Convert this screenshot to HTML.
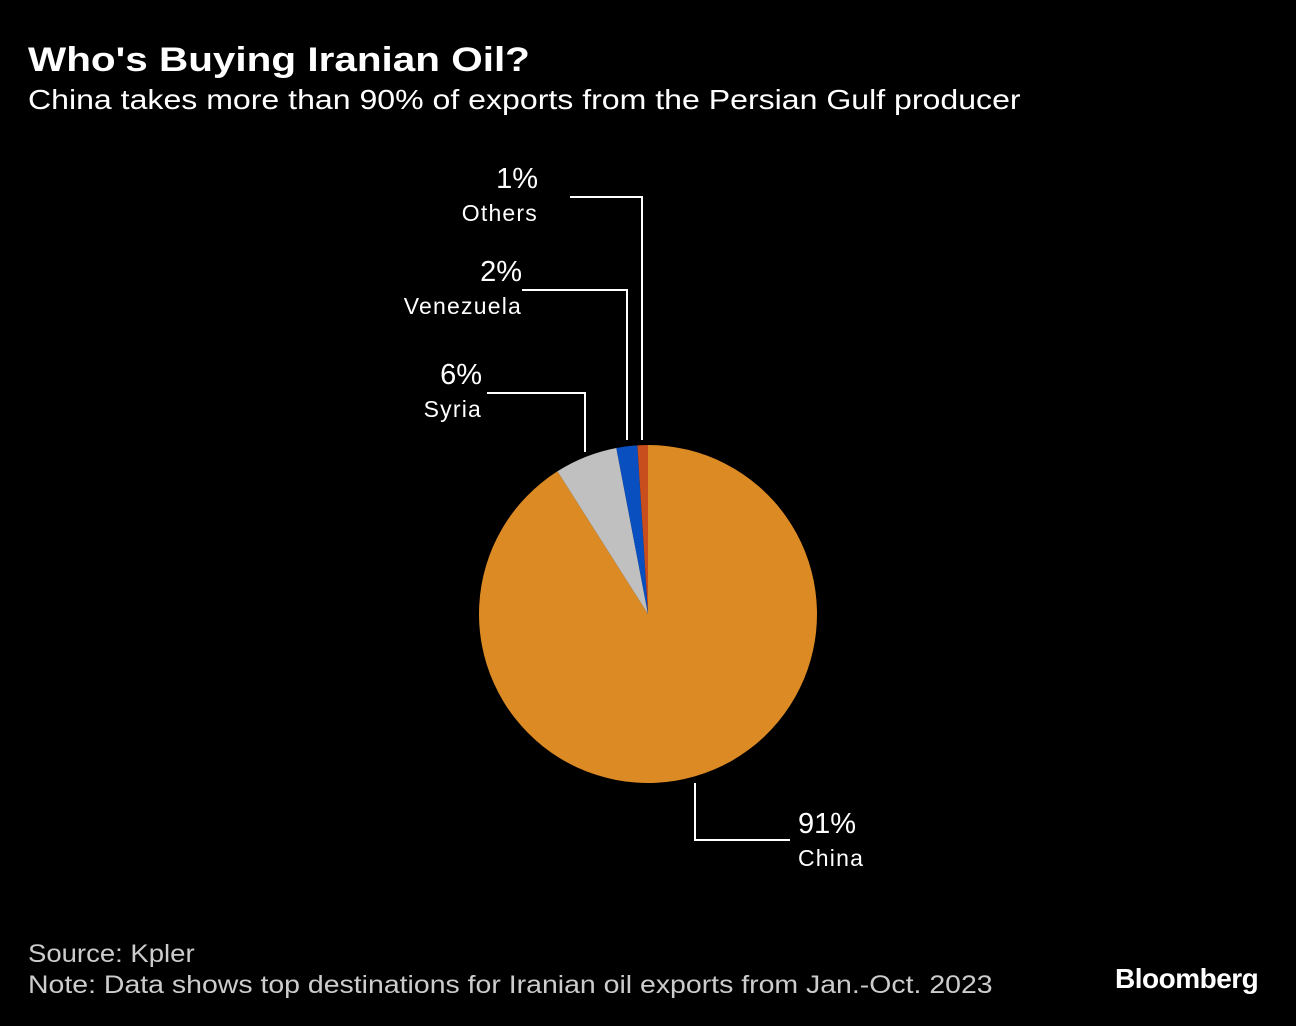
<!DOCTYPE html>
<html><head><meta charset="utf-8"><style>
html,body{margin:0;padding:0;background:#000;}
body{width:1296px;height:1026px;position:relative;overflow:hidden;font-family:"Liberation Sans",sans-serif;color:#fff;}
.t{position:absolute;white-space:nowrap;transform-origin:left;}
</style></head><body>
<div class="t" style="left:28px;top:41px;font-size:34px;font-weight:bold;transform:scaleX(1.19);">Who's Buying Iranian Oil?</div>
<div class="t" style="left:28px;top:84px;font-size:28px;transform:scaleX(1.145);">China takes more than 90% of exports from the Persian Gulf producer</div>
<svg id="chart" width="1296" height="1026" style="position:absolute;left:0;top:0;"></svg>
<div class="t" style="left:28px;top:940px;font-size:25px;color:#ccc;transform:scaleX(1.1);">Source: Kpler</div>
<div class="t" style="left:28px;top:971px;font-size:25px;color:#ccc;transform:scaleX(1.138);">Note: Data shows top destinations for Iranian oil exports from Jan.-Oct. 2023</div>
<div class="t" style="left:1115px;top:963px;font-size:28px;font-weight:bold;letter-spacing:-0.5px;">Bloomberg</div>
<script>
const categories=["China","Syria","Venezuela","Others"];
const values=[91,6,2,1];
const colors=["#db8a24","#c0c0c0","#0a4fc0","#c94e1e"];
const labels=["91%","6%","2%","1%"];
const svg=document.getElementById('chart');
const NS="http://www.w3.org/2000/svg";
const cx=648,cy=614,r=169;
const total=values.reduce((a,b)=>a+b,0);
function pt(a,rr){return [cx+rr*Math.sin(a),cy-rr*Math.cos(a)];}
let acc=0;
values.forEach((v,i)=>{
  const a0=acc/total*2*Math.PI;acc+=v;const a1=acc/total*2*Math.PI;
  const p0=pt(a0,r),p1=pt(a1,r);
  const large=(a1-a0)>Math.PI?1:0;
  const path=document.createElementNS(NS,'path');
  path.setAttribute('d',`M${cx},${cy}L${p0[0]},${p0[1]}A${r},${r} 0 ${large} 1 ${p1[0]},${p1[1]}Z`);
  path.setAttribute('fill',colors[i]);
  
  
  svg.appendChild(path);
});
const layout=[
 {x:695,y1:783,y2:840,hx:790,tx:798,ty:822,anchor:'start'},
 {x:585,y1:452,y2:393,hx:487,tx:482,ty:373,anchor:'end'},
 {x:627,y1:440,y2:290,hx:522,tx:522,ty:270,anchor:'end'},
 {x:642,y1:440,y2:197,hx:570,tx:538,ty:177,anchor:'end'}
];
layout.forEach((L,i)=>{
  const pl=document.createElementNS(NS,'polyline');
  pl.setAttribute('points',`${L.x},${L.y1} ${L.x},${L.y2} ${L.hx},${L.y2}`);
  pl.setAttribute('fill','none');pl.setAttribute('stroke','#fff');pl.setAttribute('stroke-width','2');
  
  
  svg.appendChild(pl);
  const t1=document.createElementNS(NS,'text');
  t1.setAttribute('x',L.tx);t1.setAttribute('y',L.ty+11);t1.setAttribute('text-anchor',L.anchor);
  t1.setAttribute('fill','#fff');t1.setAttribute('font-size','29');t1.setAttribute('font-family','Liberation Sans, sans-serif');
  t1.textContent=labels[i];
  
  
  svg.appendChild(t1);
  const t2=document.createElementNS(NS,'text');
  t2.setAttribute('x',L.tx);t2.setAttribute('y',L.ty+44);t2.setAttribute('text-anchor',L.anchor);
  t2.setAttribute('fill','#fff');t2.setAttribute('font-size','23');t2.setAttribute('font-family','Liberation Sans, sans-serif');
  t2.setAttribute('letter-spacing','1.2');
  t2.textContent=categories[i];
  
  
  svg.appendChild(t2);
});
</script>
</body></html>
